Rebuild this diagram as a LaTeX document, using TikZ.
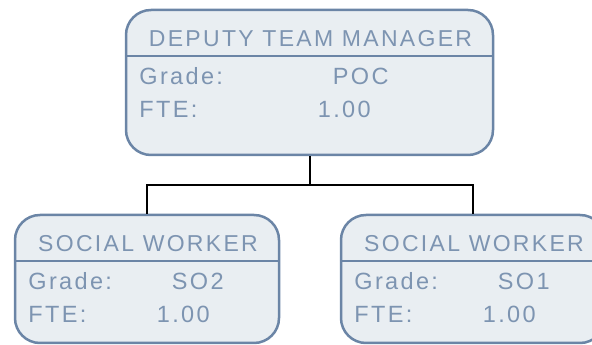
\documentclass[tikz,border=0pt]{standalone}
\usepackage{fontspec}
\newfontfamily\titlefont{Liberation Sans}[LetterSpace=10]
\newfontfamily\bodyfont{Liberation Sans}[LetterSpace=10]
\usetikzlibrary{calc}
\usetikzlibrary{positioning}
\definecolor{postline}{HTML}{6B85A6}
\definecolor{postfill}{HTML}{E9EEF2}
\definecolor{posttext}{HTML}{7D94B1}

\begin{document}
\begin{tikzpicture}[x=1pt, y=1pt]
      \tikzset{
        post/.style={draw=postline, fill=postfill, line width=2.5pt,
            rounded corners=25pt, inner sep=0pt, minimum width=#1},
        post/.default=264pt,
        posttitle/.style={text=posttext, inner sep=0pt,
            font=\titlefont\fontsize{23}{27}\selectfont},
        posttxt/.style={text=posttext, inner sep=0pt,
            font=\bodyfont\fontsize{23.5}{27}\selectfont},
        link/.style={black, line width=2pt}
      }
      % #1 name, #2 column of the values, #3 title, #4 grade
      \newcommand{\postfields}[4]{
        \draw[postline, line width=2pt] ($(#1.north west)+(0,-47)$) -- ($(#1.north east)+(0,-47)$);
        \node[posttitle, anchor=base] (#1-title) at ($(#1.north)+(1,-37.5)$) {#3};
        \node[posttxt, anchor=base west] (#1-gl) at ($(#1.north west)+(14.5,-76)$) {Grade:};
        \node[posttxt, anchor=base west] (#1-gv) at ($(#1.north west)+(#2,-76)$) {#4};
        \node[posttxt, anchor=base west] (#1-fl) at ($(#1.north west)+(14.5,-109)$) {FTE:};
        \node[posttxt, anchor=base west] (#1-fv) at ($(#1.north west)+(#2-15,-109)$) {1.00};
      }

      \clip (0,0) rectangle (592,345);

      % Posts
      \node[post=367pt, minimum height=145pt] (dtm) at (309.5,262.5) {};
      \node[post, minimum height=128pt] (sw2) at (147,66) {};
      \node[post, minimum height=128pt] (sw1) at (473,66) {};

      \postfields{dtm}{208}{DEPUTY TEAM MANAGER}{POC}
      \postfields{sw2}{158}{SOCIAL WORKER}{SO2}
      \postfields{sw1}{158}{SOCIAL WORKER}{SO1}

      % Lines of report
      \coordinate (bar) at (dtm.south |- 0,160);
      \draw[link] (dtm.south) -- (bar);
      \draw[link] (sw2.north) |- (bar) -| (sw1.north);
    \end{tikzpicture}
\end{document}
